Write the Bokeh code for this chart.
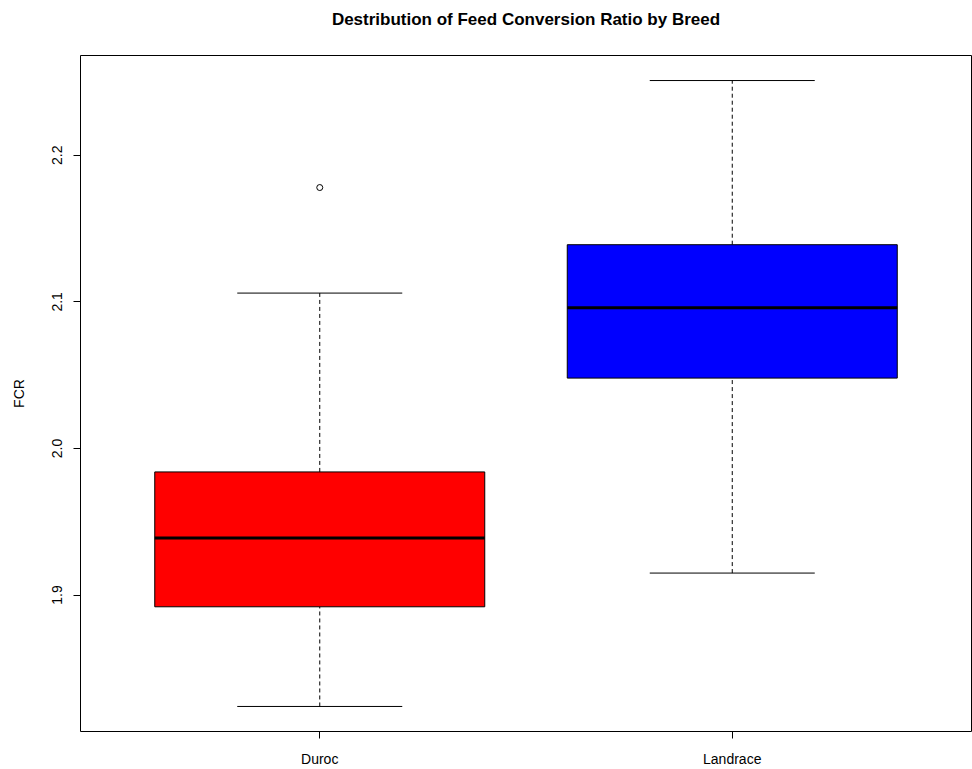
from bokeh.plotting import figure
from bokeh.models import (ColumnDataSource, FactorRange, Range1d, FixedTicker,
                          NumeralTickFormatter, CategoricalAxis)
from bokeh.transform import dodge
from bokeh.embed import file_html
from bokeh.resources import INLINE

# Five-number summaries of feed conversion ratio per breed
breeds = ["Duroc", "Landrace"]
whisker_low = [1.824, 1.915]
q1 = [1.892, 2.048]
median = [1.939, 2.096]
q3 = [1.984, 2.139]
whisker_high = [2.106, 2.251]
box_colors = ["#FF0000", "#0000FF"]

# Points beyond the whiskers
outlier_breed = ["Duroc"]
outlier_fcr = [2.178]

y_ticks = [1.9, 2.0, 2.1, 2.2]

src = ColumnDataSource(dict(breed=breeds, lo=whisker_low, q1=q1, med=median,
                            q3=q3, hi=whisker_high, color=box_colors))
out_src = ColumnDataSource(dict(breed=outlier_breed, fcr=outlier_fcr))

FONT = "Liberation Sans"

# y limits padded 4% beyond the data, as in a classic boxplot
y_min = min(whisker_low + outlier_fcr)
y_max = max(whisker_high + outlier_fcr)
pad = (y_max - y_min) * 0.04
y_lo, y_hi = y_min - pad, y_max + pad

x_range = FactorRange(factors=breeds, range_padding=0.08,
                      range_padding_units="absolute")

p = figure(width=972, height=769, x_range=x_range,
           y_range=Range1d(y_lo, y_hi),
           output_backend="svg", toolbar_location=None,
           min_border_left=80, min_border_right=1,
           min_border_top=55, min_border_bottom=34)

p.background_fill_color = "white"
p.border_fill_color = "white"
p.outline_line_color = "black"
p.outline_line_width = 1
p.xgrid.visible = False
p.ygrid.visible = False

# main title: label of a bare axis along the top edge
title_axis = CategoricalAxis(axis_label="Destribution of Feed Conversion Ratio by Breed",
                             axis_label_text_font=FONT,
                             axis_label_text_font_size="17px",
                             axis_label_text_font_style="bold",
                             axis_label_text_color="black",
                             axis_label_standoff=27,
                             axis_line_color=None,
                             major_tick_line_color=None,
                             major_tick_in=0, major_tick_out=0,
                             major_label_text_font_size="0px",
                             major_label_standoff=0)
p.add_layout(title_axis, "above")

# dashed whisker stems
p.segment(x0="breed", x1="breed", y0="q3", y1="hi", source=src,
          line_color="black", line_width=1, line_dash="4 3")
p.segment(x0="breed", x1="breed", y0="lo", y1="q1", source=src,
          line_color="black", line_width=1, line_dash="4 3")

# whisker caps
cap_l = dodge("breed", -0.2, range=x_range)
cap_r = dodge("breed", 0.2, range=x_range)
p.segment(x0=cap_l, x1=cap_r, y0="hi", y1="hi", source=src,
          line_color="black", line_width=1)
p.segment(x0=cap_l, x1=cap_r, y0="lo", y1="lo", source=src,
          line_color="black", line_width=1)

# boxes
p.vbar(x="breed", width=0.8, bottom="q1", top="q3", source=src,
       fill_color="color", line_color="black", line_width=1)

# medians
p.segment(x0=dodge("breed", -0.4, range=x_range),
          x1=dodge("breed", 0.4, range=x_range),
          y0="med", y1="med", source=src, line_color="black", line_width=3)

# outliers
p.scatter(x="breed", y="fcr", source=out_src, marker="circle", size=6,
          fill_color=None, line_color="black", line_width=1)

# axes
p.yaxis.ticker = FixedTicker(ticks=y_ticks)
p.yaxis.formatter = NumeralTickFormatter(format="0.0")
p.yaxis.major_label_orientation = "vertical"
p.yaxis.axis_label = "FCR"
p.yaxis.axis_label_text_font = FONT
p.yaxis.axis_label_text_font_size = "14px"
p.yaxis.axis_label_text_font_style = "normal"
p.yaxis.axis_label_text_color = "black"
p.yaxis.axis_label_standoff = 23

for ax in (p.below[0], p.yaxis[0]):
    ax.axis_line_color = None
    ax.major_tick_line_color = "black"
    ax.major_tick_out = 7
    ax.major_tick_in = 0
    ax.minor_tick_line_color = None
    ax.major_label_text_font = FONT
    ax.major_label_text_font_size = "14px"
    ax.major_label_text_color = "black"
    ax.major_label_standoff = 11

p.below[0].major_label_standoff = 12

open("out.html", "w").write(file_html(p, INLINE))
